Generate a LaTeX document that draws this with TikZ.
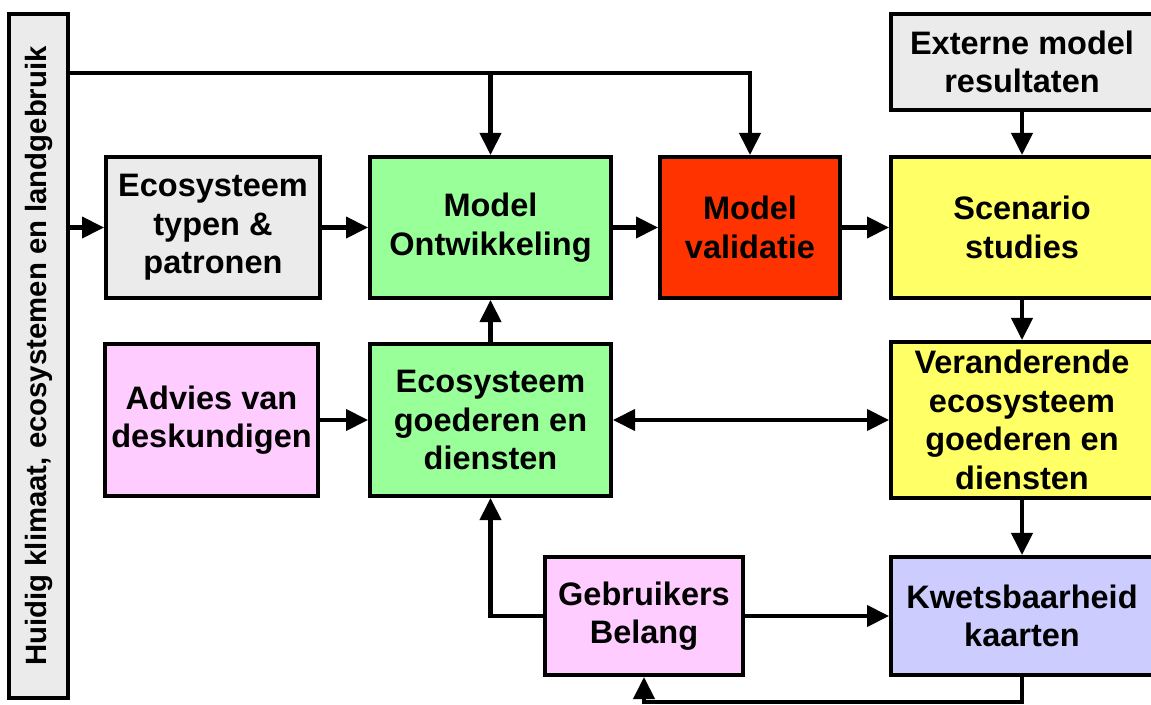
\documentclass[tikz,border=0pt]{standalone}
\usepackage{fontspec}
\setmainfont{Liberation Sans}
\usetikzlibrary{arrows.meta}

\definecolor{grijs}{HTML}{EBEBEB}
\definecolor{groen}{HTML}{99FF99}
\definecolor{rood}{HTML}{FF3300}
\definecolor{geel}{HTML}{FFFF66}
\definecolor{roze}{HTML}{FFCCFF}
\definecolor{lila}{HTML}{CCCCFF}

\tikzset{
  blok/.style={draw, line width=2.3pt, inner sep=0pt, align=center,
    font=\bfseries\fontsize{18.5}{22}\selectfont},
  pijl/.style={->, line width=2.3pt},
  lijn/.style={line width=2.3pt}
}

\begin{document}
\begin{tikzpicture}[x=0.02cm, y=-0.02cm, >={Triangle[length=0.44cm, width=0.42cm]}]

\useasboundingbox (0,0) rectangle (1151,705);

% Linker balk
\node[blok, fill=grijs, minimum width=1.18cm, minimum height=13.68cm] (huidig) at (38.5,356) {};
\node[rotate=90, font=\bfseries\fontsize{16.7}{20}\selectfont] (huidigtekst) at (huidig.center) {Huidig klimaat, ecosystemen en landgebruik};

% Bovenste rij
\node[blok, fill=grijs, minimum width=4.28cm, minimum height=2.82cm] (typen) at (213,227.5) {Ecosysteem\\typen \&\\patronen};
\node[blok, fill=groen, minimum width=4.82cm, minimum height=2.82cm] (ontw) at (490.5,227.5) {Model\\Ontwikkeling};
\node[blok, fill=rood, minimum width=3.6cm, minimum height=2.82cm] (valid) at (750,227.5) {Model\\validatie};
\node[blok, fill=geel, minimum width=5.24cm, minimum height=2.82cm] (scen) at (1022,227.5) {Scenario\\studies};
\node[blok, fill=grijs, minimum width=5.24cm, minimum height=1.92cm] (extern) at (1022,62) {Externe model\\resultaten};

% Middelste rij
\node[blok, fill=roze, minimum width=4.26cm, minimum height=3.04cm] (advies) at (211.5,420) {Advies van\\deskundigen};
\node[blok, fill=groen, minimum width=4.82cm, minimum height=3.04cm] (goed) at (490.5,420) {Ecosysteem\\goederen en\\diensten};
\node[blok, fill=geel, minimum width=5.24cm, minimum height=3.12cm] (verand) at (1022,420) {Veranderende\\ecosysteem\\goederen en\\diensten};

% Onderste rij
\node[blok, fill=roze, minimum width=3.96cm, minimum height=2.36cm] (gebr) at (644,616) {Gebruikers\\Belang};
\node[blok, fill=lila, minimum width=5.24cm, minimum height=2.36cm] (kwets) at (1022,616) {Kwetsbaarheid\\kaarten};

% Pijlen bovenaan
\draw[pijl] (huidig.east |- 0,73) -| (valid.north);
\draw[pijl] (ontw.north |- 0,73) -- (ontw.north);
\draw[pijl] (huidig.east |- typen.west) -- (typen.west);
\draw[pijl] (typen) -- (ontw);
\draw[pijl] (ontw) -- (valid);
\draw[pijl] (valid) -- (scen);
\draw[pijl] (extern) -- (scen);

% Pijlen midden
\draw[pijl] (scen) -- (verand);
\draw[pijl] (advies) -- (goed);
\draw[pijl] (goed) -- (ontw);
\draw[<->, lijn] (goed) -- (verand);
\draw[pijl] (verand) -- (kwets);

% Pijlen onderaan
\draw[pijl] (gebr) -- (kwets);
\draw[pijl] (gebr.west) -| (goed.south);
\draw[pijl] (kwets.south) -- ++(0,25) -| (gebr.south);

\end{tikzpicture}
\end{document}
